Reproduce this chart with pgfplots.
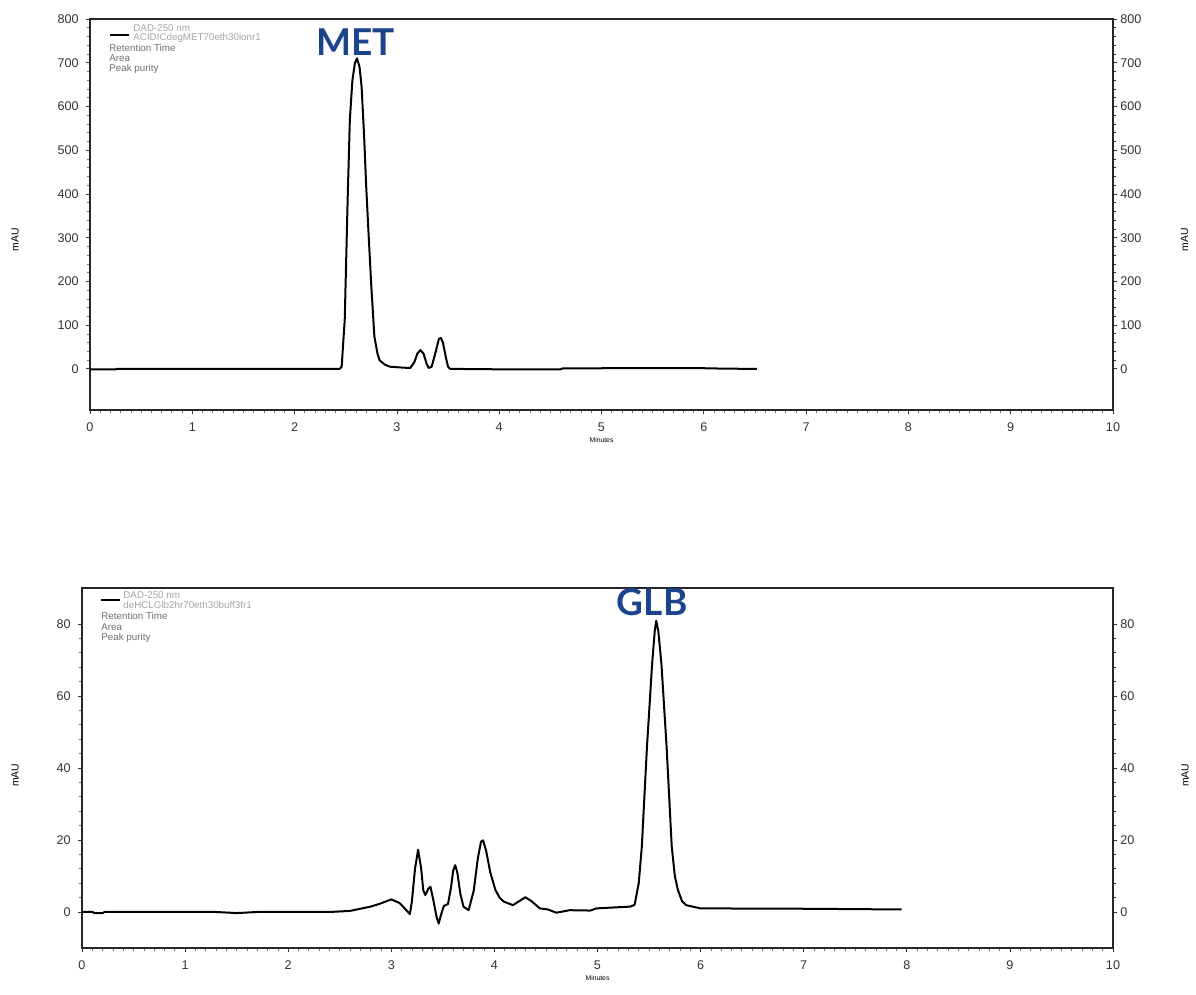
\documentclass[border=0pt]{standalone}
\usepackage{fontspec}
\setmainfont{Liberation Sans}
\newfontfamily\latofont{Lato}
\usepackage{pgfplots}
\pgfplotsset{compat=1.18}
\definecolor{peakblue}{RGB}{28,68,140}
\definecolor{legtxt}{RGB}{165,165,165}
\definecolor{legtxt2}{RGB}{110,110,110}

\pgfplotsset{
  chromo/.style={
    scale only axis, anchor=south west,
    xmin=0, xmax=10, xtick={0,...,10}, minor x tick num=9,
    minor y tick num=4,
    tick align=outside,
    major tick length=2.2pt, minor tick length=1.4pt,
    every tick/.style={black!80, line width=0.4pt},
    every minor tick/.style={black!55, line width=0.35pt},
    axis line style={black!85, line width=0.55pt},
    /pgf/number format/assume math mode=true,
    tick label style={font=\fontsize{6.3}{7}\selectfont, text=black!80},
    xticklabel style={yshift=-0.5pt},
    xlabel={Minutes},
    xlabel style={font=\fontsize{3.4}{4}\selectfont, yshift=4pt},
    ylabel={mAU},
    ylabel style={font=\fontsize{5.2}{6}\selectfont},
  },
  rightside/.style={
    scale only axis, anchor=south west,
    xmin=0, xmax=10, axis x line=none, axis y line*=right,
    minor y tick num=4, tick align=outside,
    major tick length=2.2pt, minor tick length=1.4pt,
    every tick/.style={black!80, line width=0.4pt},
    axis line style={black!85, line width=0.55pt},
    /pgf/number format/assume math mode=true,
    tick label style={font=\fontsize{6.3}{7}\selectfont, text=black!80},
    yticklabel style={xshift=-2pt},
    ylabel={mAU},
    ylabel style={font=\fontsize{5.2}{6}\selectfont},
  },
}
\tikzset{legfont/.style={font=\fontsize{4.9}{5}\selectfont, inner sep=0pt, anchor=base west}}

\begin{document}
\begin{tikzpicture}
\useasboundingbox (0pt,0pt) rectangle (598pt,497.5pt);

% ---- top chromatogram (MET)
\begin{axis}[chromo, at={(45pt,292.5pt)}, width=511.5pt, height=195.5pt,
    ymin=-94, ymax=800, ytick={0,100,...,800}, ytick pos=left, xtick pos=bottom,
    ylabel style={at={(axis description cs:-0.0733,0.435)}, anchor=center},
  ]
  \addplot[black, line width=1pt, line join=round] coordinates {
    (0,-1)(0.25,-1)(0.26,0)(2.0,0)(2.44,0)(2.46,5)(2.49,112)(2.52,400)
    (2.54,569)(2.565,660)(2.59,700)(2.61,710)(2.635,690)(2.655,645)
    (2.68,530)(2.70,417)(2.725,300)(2.75,188)(2.78,74)(2.81,35)(2.83,20)
    (2.88,10)(2.93,5)(3.05,3)(3.13,2)(3.17,15)(3.2,35)(3.23,43)(3.26,35)
    (3.29,12)(3.31,2)(3.34,5)(3.38,40)(3.41,68)(3.43,71)(3.45,60)(3.48,25)
    (3.5,5)(3.52,0)(4.0,-1)(4.6,-1)(4.62,1)(5.5,2)(6.0,1.5)(6.2,0.5)(6.52,0)
  };
  \draw[black, line width=1pt] ([xshift=10pt,yshift=-8pt]rel axis cs:0,1) -- ([xshift=19.5pt,yshift=-8pt]rel axis cs:0,1);
  \node[legfont, text=legtxt] at ([xshift=21.5pt,yshift=-6.5pt]rel axis cs:0,1) {DAD-250 nm};
  \node[legfont, text=legtxt] at ([xshift=21.5pt,yshift=-11pt]rel axis cs:0,1) {ACIDICdegMET70eth30ionr1};
  \node[legfont, text=legtxt2] at ([xshift=9.5pt,yshift=-16.5pt]rel axis cs:0,1) {Retention Time};
  \node[legfont, text=legtxt2] at ([xshift=9.5pt,yshift=-21.5pt]rel axis cs:0,1) {Area};
  \node[legfont, text=legtxt2] at ([xshift=9.5pt,yshift=-26.5pt]rel axis cs:0,1) {Peak purity};
  \node[text=peakblue, font=\latofont\bfseries\fontsize{18.5}{20}\selectfont, inner sep=0pt]
    at (rel axis cs:0.26,0.941) {MET};
\end{axis}
\begin{axis}[rightside, at={(45pt,292.5pt)}, width=511.5pt, height=195.5pt,
    ymin=-94, ymax=800, ytick={0,100,...,800},
    ylabel style={at={(axis description cs:1.070,0.435)}, anchor=center},
  ]
\end{axis}

% ---- bottom chromatogram (GLB)
\begin{axis}[chromo, at={(41pt,23.5pt)}, width=515.5pt, height=180pt,
    ymin=-10, ymax=90, ytick={0,20,...,80}, ytick pos=left, xtick pos=bottom,
    ylabel style={at={(axis description cs:-0.065,0.48)}, anchor=center},
  ]
  \addplot[black, line width=1pt, line join=round] coordinates {
    (0,0)(0.1,0)(0.12,-0.3)(0.2,-0.3)(0.22,0)(1.3,0)(1.5,-0.3)(1.7,0)(2.4,0)
    (2.6,0.3)(2.8,1.5)(2.89,2.3)(3.0,3.5)(3.08,2.5)(3.13,1)(3.18,-0.6)(3.2,3)
    (3.23,12)(3.26,17.3)(3.29,12)(3.31,6)(3.33,4.7)(3.36,6.5)(3.38,7)(3.41,3)
    (3.44,-1.5)(3.46,-3.2)(3.48,-1)(3.51,1.7)(3.55,2.2)(3.58,7)(3.60,11.5)
    (3.62,13)(3.64,11)(3.67,5)(3.70,1.5)(3.75,0.5)(3.80,6)(3.84,15)(3.87,19.5)
    (3.89,19.9)(3.92,17)(3.96,11)(4.01,6.1)(4.05,4)(4.09,2.9)(4.18,1.9)(4.24,3)
    (4.30,4.1)(4.36,3)(4.44,1)(4.52,0.7)(4.60,-0.2)(4.73,0.5)(4.93,0.4)(4.99,1)
    (5.32,1.5)(5.36,2)(5.40,8)(5.43,18.2)(5.48,46)(5.53,69)(5.555,78)(5.57,80.9)
    (5.59,78)(5.62,69)(5.67,46)(5.72,18.2)(5.75,10)(5.78,6.1)(5.82,3)(5.86,1.9)
    (6.0,1)(7.0,0.9)(7.95,0.7)
  };
  \draw[black, line width=1pt] ([xshift=9.5pt,yshift=-6pt]rel axis cs:0,1) -- ([xshift=19pt,yshift=-6pt]rel axis cs:0,1);
  \node[legfont, text=legtxt] at ([xshift=20.5pt,yshift=-5pt]rel axis cs:0,1) {DAD-250 nm};
  \node[legfont, text=legtxt] at ([xshift=20.5pt,yshift=-10pt]rel axis cs:0,1) {deHCLGlb2hr70eth30buff3fr1};
  \node[legfont, text=legtxt2] at ([xshift=9.5pt,yshift=-15.5pt]rel axis cs:0,1) {Retention Time};
  \node[legfont, text=legtxt2] at ([xshift=9.5pt,yshift=-21pt]rel axis cs:0,1) {Area};
  \node[legfont, text=legtxt2] at ([xshift=9.5pt,yshift=-26pt]rel axis cs:0,1) {Peak purity};
  \node[text=peakblue, font=\latofont\bfseries\fontsize{18.5}{20}\selectfont, inner sep=0pt]
    at (rel axis cs:0.553,0.961) {GLB};
\end{axis}
\begin{axis}[rightside, at={(41pt,23.5pt)}, width=515.5pt, height=180pt,
    ymin=-10, ymax=90, ytick={0,20,...,80},
    ylabel style={at={(axis description cs:1.070,0.48)}, anchor=center},
  ]
\end{axis}
\end{tikzpicture}
\end{document}
